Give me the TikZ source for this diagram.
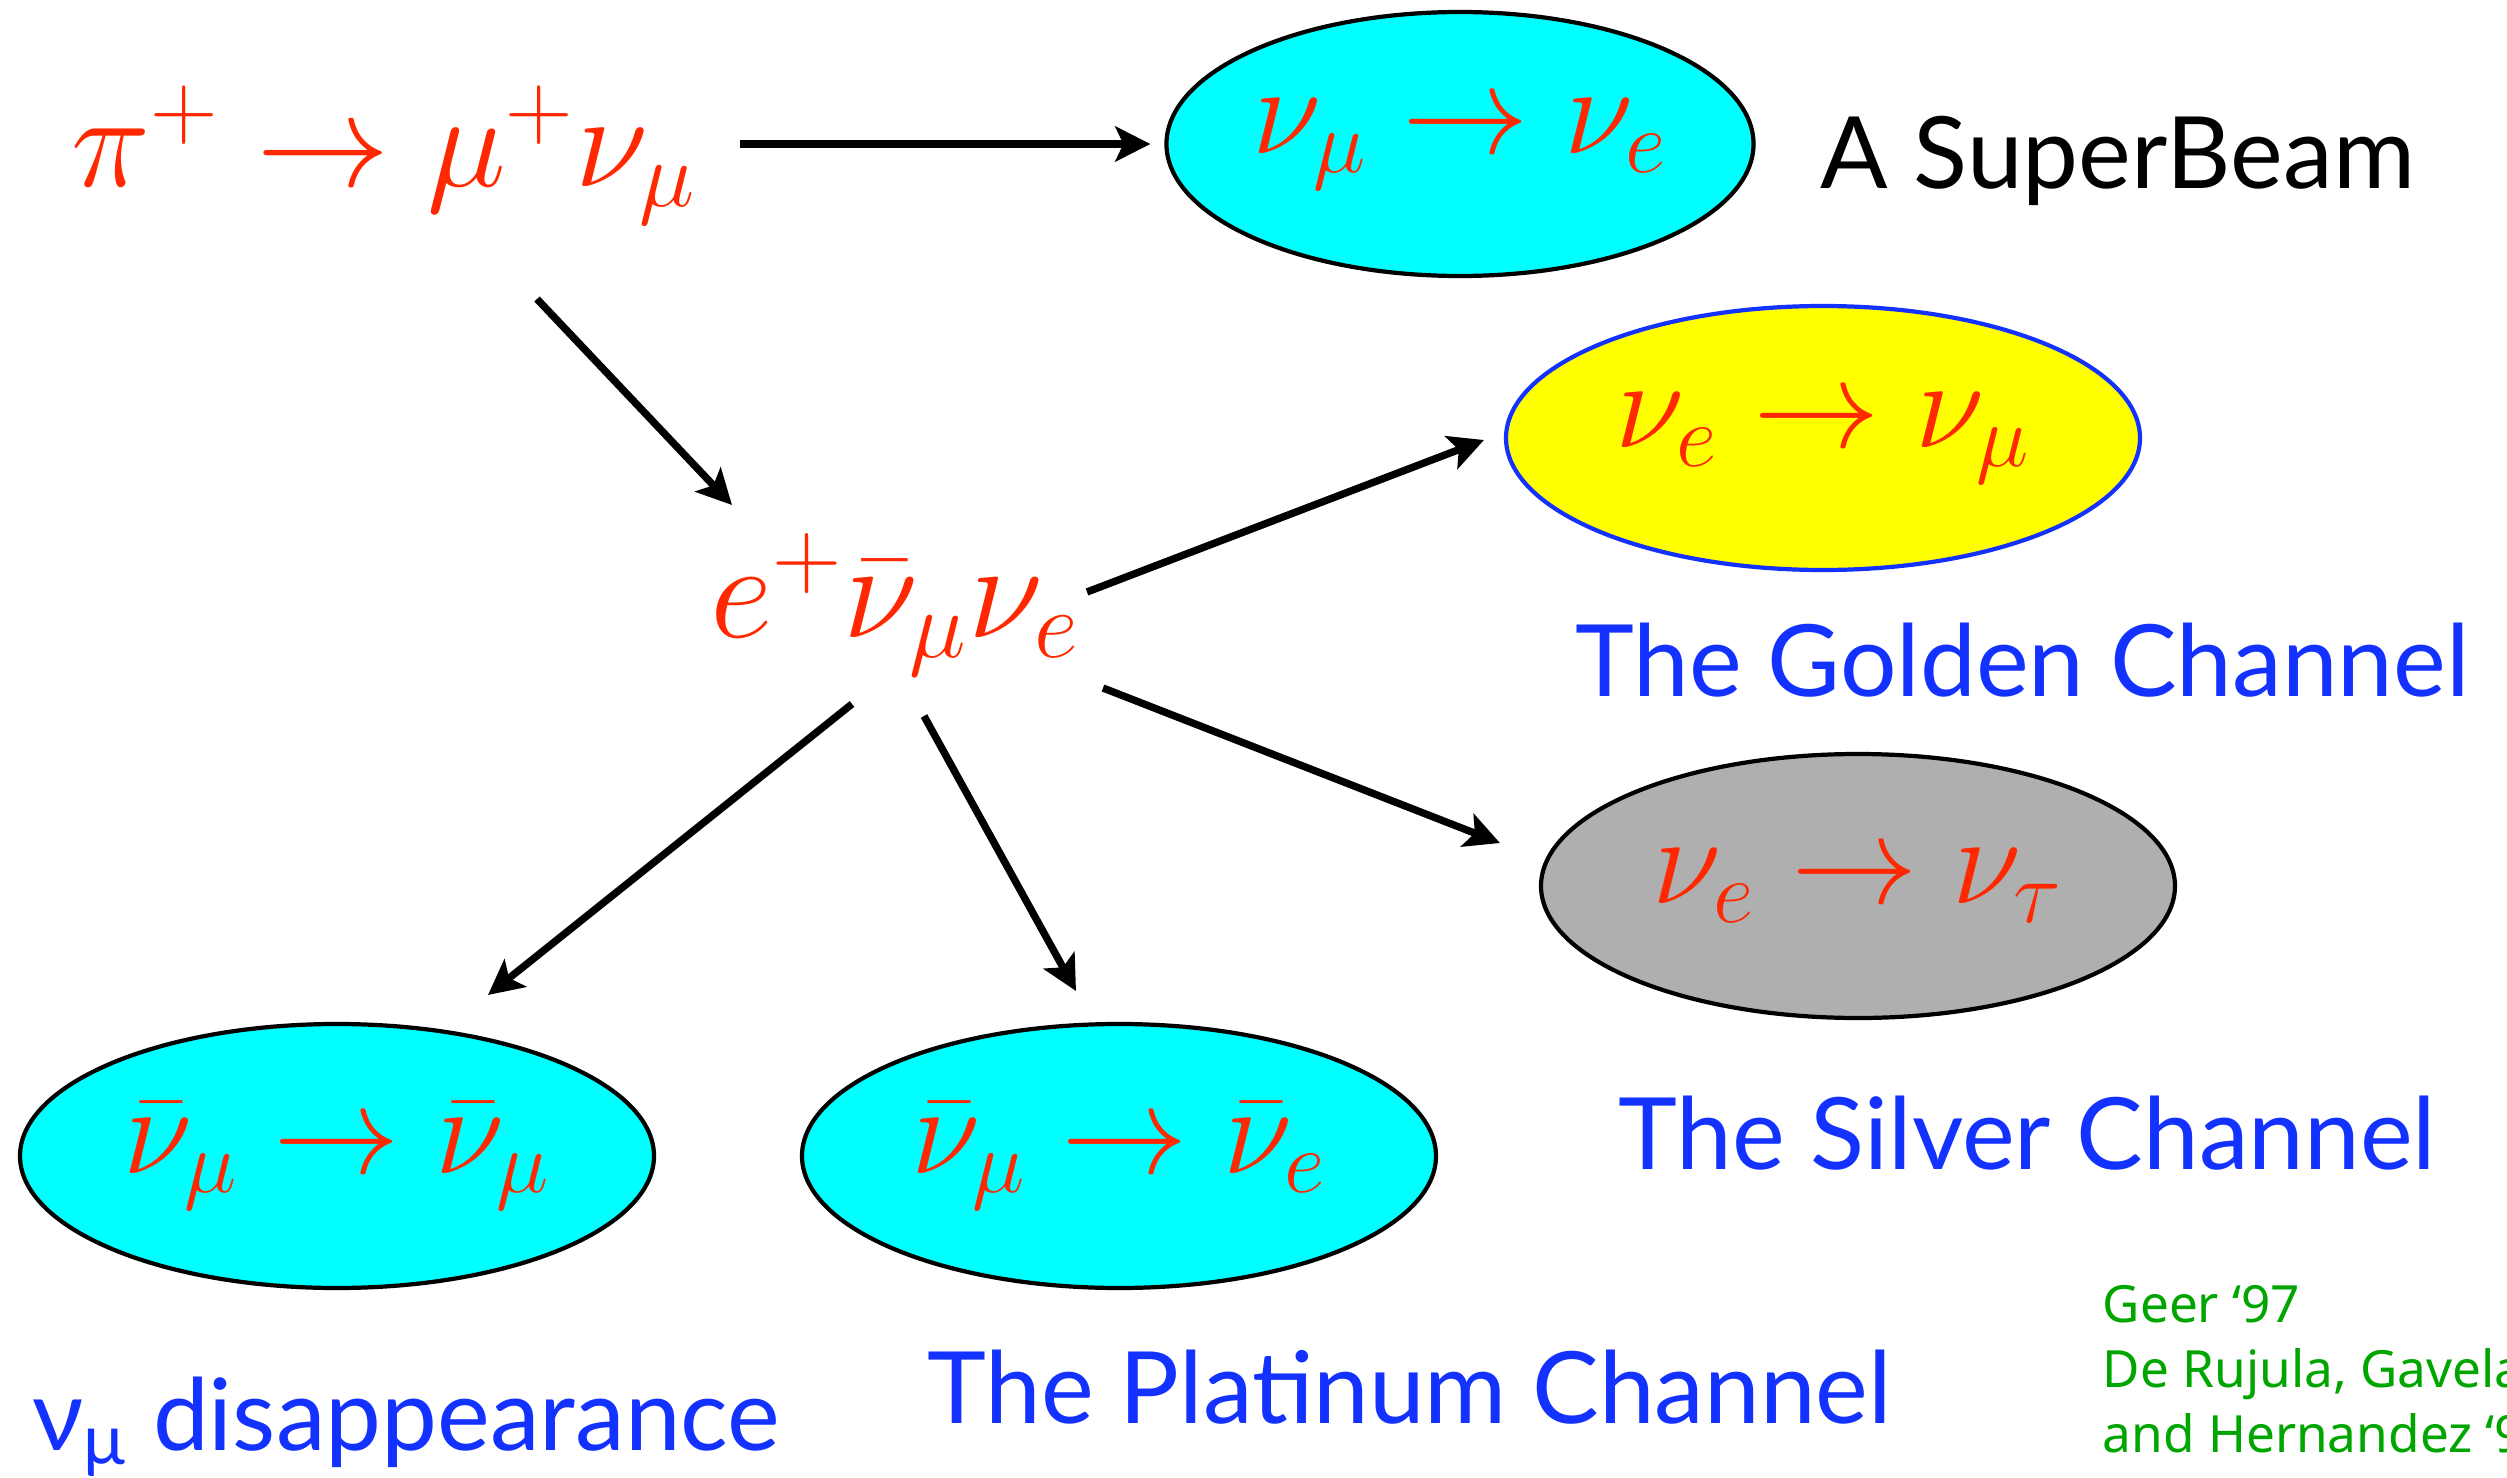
\documentclass[tikz,border=0pt]{standalone}
\usepackage{fix-cm}
\usepackage[no-math]{fontspec}
\newfontfamily\gillfont{Lato}
\newfontfamily\notefont{Noto Sans}
\usetikzlibrary{arrows.meta,shapes.geometric}
\definecolor{nuRed}{RGB}{255,40,0}
\definecolor{nuCyan}{RGB}{0,255,255}
\definecolor{nuYellow}{RGB}{255,255,0}
\definecolor{nuGray}{RGB}{175,175,175}
\definecolor{nuBlue}{RGB}{20,50,255}
\definecolor{nuGreen}{RGB}{0,165,0}

\begin{document}
\begin{tikzpicture}[x=1cm,y=1cm,
    arr/.style={-{Stealth[length=3.5mm,width=3.5mm,inset=0.8mm]}, line width=2.1pt},
    rxn/.style={text=nuRed, font=\fontsize{36}{40}\selectfont, inner sep=0pt},
    oval/.style={ellipse, draw, line width=1.2pt, inner sep=0pt,
        minimum width=6.34cm, minimum height=2.64cm},
    chan/.style={text=nuBlue, font=\gillfont\fontsize{28.4}{32}\selectfont,
        inner sep=0pt, anchor=base west}]
    \useasboundingbox (0,0) rectangle (25.07,-14.78);

    % decays
    \node[rxn, font=\fontsize{38}{42}\selectfont] (pimu) at (3.84,-1.55) {$\pi^+\to\mu^+\nu_\mu$};
    \node[rxn, font=\fontsize{39}{43}\selectfont] (decay) at (8.95,-6.05) {$e^+\bar\nu_\mu\nu_e$};

    % channels
    \node[oval, rxn, fill=nuCyan, minimum width=5.86cm] (sb) at (14.60,-1.44) {$\nu_\mu\to\nu_e$};
    \node[oval, rxn, fill=nuYellow, draw=nuBlue] (gold) at (18.23,-4.38) {$\nu_e\to\nu_\mu$};
    \node[oval, rxn, fill=nuGray] (silver) at (18.58,-8.86) {$\nu_e\to\nu_\tau$};
    \node[oval, rxn, fill=nuCyan] (dis) at (3.37,-11.56) {$\bar\nu_\mu\to\bar\nu_\mu$};
    \node[oval, rxn, fill=nuCyan] (plat) at (11.19,-11.56) {$\bar\nu_\mu\to\bar\nu_e$};

    % arrows
    \draw[arr, shorten <=0.43cm, shorten >=0.14cm] (pimu.east |- sb.west) -- (sb.west);
    \draw[arr] ([shift={(1.53,-1.44)}]pimu.center) -- ([shift={(-1.63,1.00)}]decay.center);
    \draw[arr] ([shift={(1.92,0.13)}]decay.center) -- ([shift={(-3.39,-0.02)}]gold.center);
    \draw[arr] ([shift={(2.08,-0.83)}]decay.center) -- ([shift={(-3.58,0.43)}]silver.center);
    \draw[arr] ([shift={(-0.43,-0.99)}]decay.center) -- ([shift={(1.51,1.61)}]dis.center);
    \draw[arr] ([shift={(0.29,-1.11)}]decay.center) -- ([shift={(-0.43,1.65)}]plat.center);

    % labels
    \node[chan, text=black] (sblabel) at (18.20,-1.89) {A SuperBeam};
    \node[chan] (goldlabel) at (15.75,-6.96) {The Golden Channel};
    \node[chan] (silverlabel) at (16.18,-11.69) {The Silver Channel};
    \node[chan] (platlabel) at (9.27,-14.23) {The Platinum Channel};
    \node[chan] (dislabel) at (0.32,-14.50) {ν\textsubscript{μ} disappearance};

    % references
    \node[text=nuGreen, font=\notefont\fontsize{14.6}{18.4}\selectfont, align=left,
        inner sep=0pt, anchor=base west] (refs) at (21.02,-14.52)
        {Geer ‘97\\De Rujula, Gavela\\and Hernandez ‘98};
\end{tikzpicture}
\end{document}
